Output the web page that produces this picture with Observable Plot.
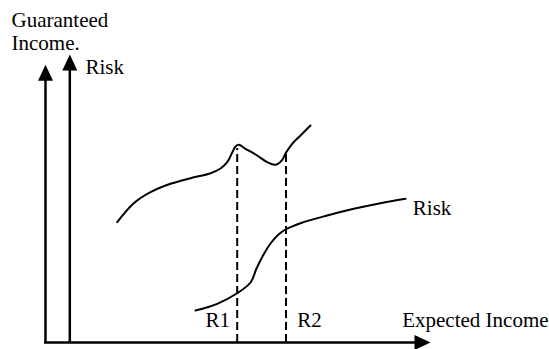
<!DOCTYPE html>
<html>
<head>
<meta charset="utf-8">
<script src="https://cdn.jsdelivr.net/npm/d3@7"></script>
<script src="https://cdn.jsdelivr.net/npm/@observablehq/plot@0.6"></script>
<style>
  html, body { margin: 0; padding: 0; background: #fff; }
  #chart svg { display: block; }
</style>
</head>
<body>
<div id="chart"></div>
<script>
// Chart units: origin at the corner of the axes, x to the right, y upward.

// Guaranteed income curve (upper)
const guaranteedX = [72.7, 89, 106, 126, 146, 166, 176, 182.7, 187.7, 191, 194.3, 201, 212.7, 222.7, 231, 237.7, 241, 247.7, 256, 266];
const guaranteedY = [120.3, 139, 150.3, 158.7, 164.3, 169.3, 174, 180.3, 190, 196, 197.7, 193.7, 187, 180.3, 177.7, 182.7, 189, 198.7, 207, 217];

// Risk curve (lower)
const riskX = [151, 172.7, 193, 206, 212, 218, 226, 234, 241, 256, 282.7, 309.3, 336, 361];
const riskY = [32, 38.7, 49.5, 60, 74, 86, 99, 108, 113, 119.3, 127, 133.7, 139.3, 143.7];

// Dashed reference lines R1, R2
const refNames = ["R1", "R2"];
const refX = [192.7, 241.5];
const refTop = [194, 192];

// Axes: two vertical axes and one horizontal axis
const vAxisX = [1, 25.3];
const vAxisTop = [277.7, 288];
const hAxisEnd = 386;

// Labels
const labelText = ["Guaranteed\nIncome.", "Risk", "Risk", "R1", "R2", "Expected Income"];
const labelX = [-33, 41, 368.3, 161, 252.7, 357.7];
const labelY = [293, 268.7, 127.7, 15.3, 15.3, 15.3];

const guaranteed = guaranteedX.map((x, i) => ({x, y: guaranteedY[i]}));
const risk = riskX.map((x, i) => ({x, y: riskY[i]}));
const refs = refNames.map((name, i) => ({name, x: refX[i], top: refTop[i]}));
const vAxes = vAxisX.map((x, i) => ({x, top: vAxisTop[i]}));
const labels = labelText.map((text, i) => ({text, x: labelX[i], y: labelY[i]}));

const arrowHead = {
  draw(ctx) {
    ctx.moveTo(0, 0);
    ctx.lineTo(7.5, 16);
    ctx.lineTo(-7.5, 16);
    ctx.closePath();
  }
};

const chart = Plot.plot({
  width: 549,
  height: 349,
  margin: 0,
  x: {domain: [-44, 505], range: [0, 549], axis: null},
  y: {domain: [-7, 342], range: [349, 0], axis: null},
  style: {background: "#fff", fontFamily: "Liberation Serif"},
  marks: [
    // dashed reference lines
    Plot.ruleX(refs, {x: "x", y1: 0, y2: "top", stroke: "black", strokeWidth: 2, strokeDasharray: "8,4"}),
    // curves
    Plot.line(guaranteed, {x: "x", y: "y", curve: "catmull-rom", stroke: "black", strokeWidth: 2}),
    Plot.line(risk, {x: "x", y: "y", curve: "catmull-rom", stroke: "black", strokeWidth: 2}),
    // axes shafts
    Plot.ruleX(vAxes, {x: "x", y1: 0, y2: d => d.top - 4, stroke: "black", strokeWidth: 2.5}),
    Plot.ruleY([0], {x1: 0, x2: hAxisEnd - 4, stroke: "black", strokeWidth: 2.5}),
    // arrow heads
    Plot.dot(vAxes, {x: "x", y: "top", symbol: arrowHead, fill: "black", stroke: "none"}),
    Plot.dot([hAxisEnd], {x: d => d, y: 0, symbol: arrowHead, rotate: 90, fill: "black", stroke: "none"}),
    // labels
    Plot.text(labels, {x: "x", y: "y", text: "text", textAnchor: "start", lineAnchor: "bottom",
      lineHeight: 1.08, fontSize: 21, fill: "black", fontFamily: "Liberation Serif"})
  ]
});

document.getElementById("chart").appendChild(chart);
</script>
</body>
</html>
